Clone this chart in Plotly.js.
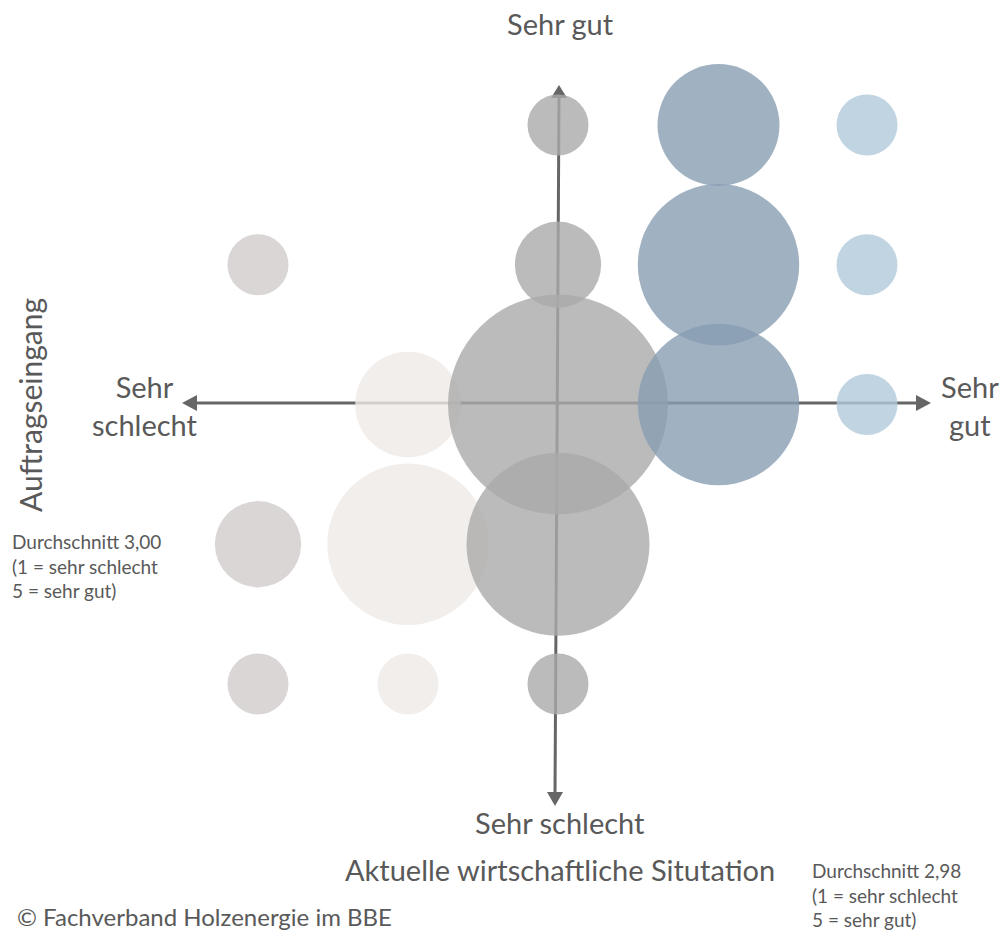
<!DOCTYPE html>
<html>
<head>
<meta charset="utf-8">
<script src="https://cdn.plot.ly/plotly-3.0.1.min.js"></script>
<style>
  html, body { margin: 0; padding: 0; background: #fff; }
  #chart { width: 1003px; height: 933px; }
</style>
</head>
<body>
<div id="chart"></div>
<script>
// x position of each column (Aktuelle wirtschaftliche Situation, 1..5)
var situation = [1, 2, 3, 4.07, 5.06];
// y values (Auftragseingang, 1..5) per column
var orders = [
  [4, 2, 1],
  [3, 2, 1],
  [5, 4, 3, 2, 1],
  [5, 4, 3],
  [5, 4, 3]
];
// number of answers per bubble
var counts = [
  [1, 2, 1],
  [3, 7, 1],
  [1, 2, 13, 9, 1],
  [4, 7, 7],
  [1, 1, 1]
];
var colors = ['rgb(209,204,204)', 'rgb(239,234,231)', 'rgb(170,170,170)', 'rgb(136,157,179)', 'rgb(176,201,217)'];

var W = 1003, H = 933;
function px(x) { return x / W; }
function py(y) { return 1 - y / H; }

var data = [];
for (var i = 0; i < situation.length; i++) {
  data.push({
    x: orders[i].map(function() { return situation[i]; }),
    y: orders[i],
    mode: 'markers',
    type: 'scatter',
    hoverinfo: 'none',
    marker: {
      size: counts[i],
      sizemode: 'area',
      sizeref: 2 / 3721,
      color: colors[i],
      opacity: 0.8,
      line: {width: 0}
    }
  });
}

var axisColor = '#666666';
var textColor = '#595959';
var font = 'Lato, "Noto Sans", sans-serif';

var shapes = [
  // horizontal axis
  {type: 'line', xref: 'paper', yref: 'paper', layer: 'below',
   x0: px(195), y0: py(403), x1: px(918), y1: py(403),
   line: {color: axisColor, width: 3}},
  // vertical axis
  {type: 'line', xref: 'paper', yref: 'paper', layer: 'below',
   x0: px(559), y0: py(96), x1: px(555), y1: py(794),
   line: {color: axisColor, width: 3}},
  // arrow heads
  {type: 'path', xref: 'paper', yref: 'paper', layer: 'below', line: {width: 0}, fillcolor: axisColor,
   path: 'M' + px(182) + ',' + py(403) + ' L' + px(197) + ',' + py(395) + ' L' + px(197) + ',' + py(411) + ' Z'},
  {type: 'path', xref: 'paper', yref: 'paper', layer: 'below', line: {width: 0}, fillcolor: axisColor,
   path: 'M' + px(931) + ',' + py(403) + ' L' + px(916) + ',' + py(395) + ' L' + px(916) + ',' + py(411) + ' Z'},
  {type: 'path', xref: 'paper', yref: 'paper', layer: 'below', line: {width: 0}, fillcolor: axisColor,
   path: 'M' + px(559) + ',' + py(85) + ' L' + px(551) + ',' + py(98) + ' L' + px(567) + ',' + py(98) + ' Z'},
  {type: 'path', xref: 'paper', yref: 'paper', layer: 'below', line: {width: 0}, fillcolor: axisColor,
   path: 'M' + px(555) + ',' + py(806) + ' L' + px(547) + ',' + py(792) + ' L' + px(563) + ',' + py(792) + ' Z'}
];

function note(text, x, y, size, xanchor, extra) {
  var a = {
    text: text, xref: 'paper', yref: 'paper', x: px(x), y: py(y),
    xanchor: xanchor || 'center', yanchor: 'middle', showarrow: false,
    align: xanchor === 'left' ? 'left' : 'center',
    font: {family: font, size: size, color: textColor}
  };
  for (var k in extra) a[k] = extra[k];
  return a;
}

var annotations = [
  note('Sehr gut', 560, 24, 29),
  note('Sehr schlecht', 560, 822, 29),
  note('Sehr<br>schlecht', 145, 405, 29),
  note('Sehr<br>gut', 970, 405, 29),
  note('Aktuelle wirtschaftliche Situtation', 560, 869, 29),
  note('Auftragseingang', 30, 405, 30, 'center', {textangle: -90}),
  note('Durchschnitt 3,00<br>(1 = sehr schlecht<br>5 = sehr gut)', 10, 566, 19, 'left'),
  note('Durchschnitt 2,98<br>(1 = sehr schlecht<br>5 = sehr gut)', 810, 895, 19, 'left'),
  note('© Fachverband Holzenergie im BBE', 15, 916, 24, 'left')
];

var layout = {
  width: W,
  height: H,
  margin: {l: 0, r: 0, t: 0, b: 0},
  paper_bgcolor: '#ffffff',
  plot_bgcolor: '#ffffff',
  showlegend: false,
  xaxis: {range: [-0.72, -0.72 + W / 150], visible: false, fixedrange: true},
  yaxis: {range: [1 - (H - 684) / 139.75, 5 + 125 / 139.75], visible: false, fixedrange: true},
  shapes: shapes,
  annotations: annotations
};

var config = {
  staticPlot: true,
  responsive: false
};

Plotly.newPlot('chart', data, layout, config);
</script>
</body>
</html>
